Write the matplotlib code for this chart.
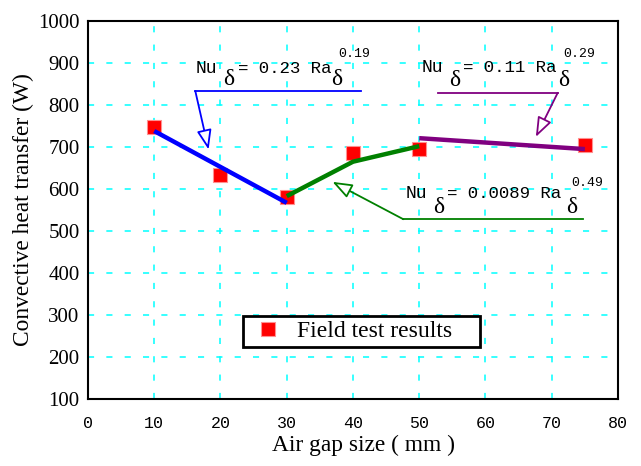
import matplotlib
matplotlib.use("Agg")
import matplotlib.pyplot as plt

# Data
gap_mm = [10, 20, 30, 40, 50, 75]
heat_w = [748, 633, 581, 685, 695, 705]

blue_x = [10, 30]
blue_y = [738, 567]
green_x = [30, 40, 50]
green_y = [583, 665, 702]
purple_x = [50, 75]
purple_y = [721, 695]

x_ticks = [0, 10, 20, 30, 40, 50, 60, 70, 80]
y_ticks = [100, 200, 300, 400, 500, 600, 700, 800, 900, 1000]

SERIF = "Liberation Serif"
MONO = "Liberation Mono"

fig = plt.figure(figsize=(6.41, 4.66), dpi=100)
ax = fig.add_axes([88/641, 1-399/466, 530/641, 378/466])

ax.set_xlim(0, 80)
ax.set_ylim(100, 1000)
ax.set_xticks(x_ticks)
ax.set_yticks(y_ticks)
ax.set_xticklabels([str(v) for v in x_ticks], fontfamily=MONO, fontsize=12)
ax.set_yticklabels([str(v) for v in y_ticks], fontfamily=SERIF, fontsize=15)
ax.tick_params(length=0, pad=6)
ax.tick_params(axis='x', pad=12)

for s in ax.spines.values():
    s.set_linewidth(1.5)

ax.grid(True, color='#00ffff', linestyle=(0, (4, 8)), linewidth=1.1)
ax.set_axisbelow(True)

ax.plot(blue_x, blue_y, color='#0000ff', lw=3.2, solid_capstyle='butt', zorder=3)
ax.plot(green_x, green_y, color='#008000', lw=3.2, solid_capstyle='butt', zorder=3)
ax.plot(purple_x, purple_y, color='#800080', lw=3.2, solid_capstyle='butt', zorder=3)
ax.plot(gap_mm, heat_w, linestyle='none', marker='s', markersize=10,
        markerfacecolor='#ff0000', markeredgecolor='#ff9090', markeredgewidth=0.8,
        zorder=2, label='Field test results')

def callout(color, hx0, hx1, hy, cx, tx, ty):
    ax.plot([hx0, hx1], [hy, hy], color=color, lw=1.3, zorder=4)
    ax.annotate('', xy=(tx, ty), xytext=(cx, hy),
                arrowprops=dict(arrowstyle='-|>,head_length=1.2,head_width=0.45',
                                fc='white', ec=color, lw=1.3,
                                shrinkA=0, shrinkB=0), zorder=4)

callout('#0000ff', 16.2, 41.2, 833, 16.2, 18.2, 694)
callout('#800080', 52.8, 70.9, 829, 70.9, 67.6, 724)
callout('#008000', 74.7, 47.6, 528, 47.6, 36.9, 617)

def formula(x_nu, y_base, x_d1, y_d, x_eq, eq_text, x_d2, x_sup, y_sup, sup):
    ax.text(x_nu, y_base, 'Nu', fontfamily=MONO, fontsize=13, va='baseline', ha='left')
    ax.text(x_d1, y_d, '\u03b4', fontfamily=SERIF, fontsize=17, va='center', ha='left')
    ax.text(x_eq, y_base, eq_text, fontfamily=MONO, fontsize=12.5, va='baseline', ha='left')
    ax.text(x_d2, y_d, '\u03b4', fontfamily=SERIF, fontsize=17, va='center', ha='left')
    ax.text(x_sup, y_sup, sup, fontfamily=MONO, fontsize=9.5, va='center', ha='left')

formula(16.3, 876, 20.4, 860, 22.6, '= 0.23 Ra', 36.7, 37.8, 921, '0.19')
formula(50.4, 879, 54.5, 858, 56.6, '= 0.11 Ra', 70.9, 71.8, 921, '0.29')
formula(48.0, 579, 52.1, 556, 54.2, '= 0.0089 Ra', 72.1, 73.0, 614, '0.49')

ax.set_xlabel('Air gap size ( mm )', fontfamily=SERIF, fontsize=16.8, labelpad=3)
ax.xaxis.label.set_x(0.519)
ax.set_ylabel('Convective heat transfer (W)', fontfamily=SERIF, fontsize=16.8, labelpad=3)

leg = ax.legend(loc='upper left', bbox_to_anchor=(0.2925, 0.127, 0.447, 0.0926), mode='expand',
                prop={'family': SERIF, 'size': 17},
                frameon=True, fancybox=False, edgecolor='black', framealpha=1,
                handletextpad=0.4, borderpad=0.2, handlelength=1.7, borderaxespad=0)
leg.get_frame().set_linewidth(2)

fig.savefig('out.png', dpi=100)
